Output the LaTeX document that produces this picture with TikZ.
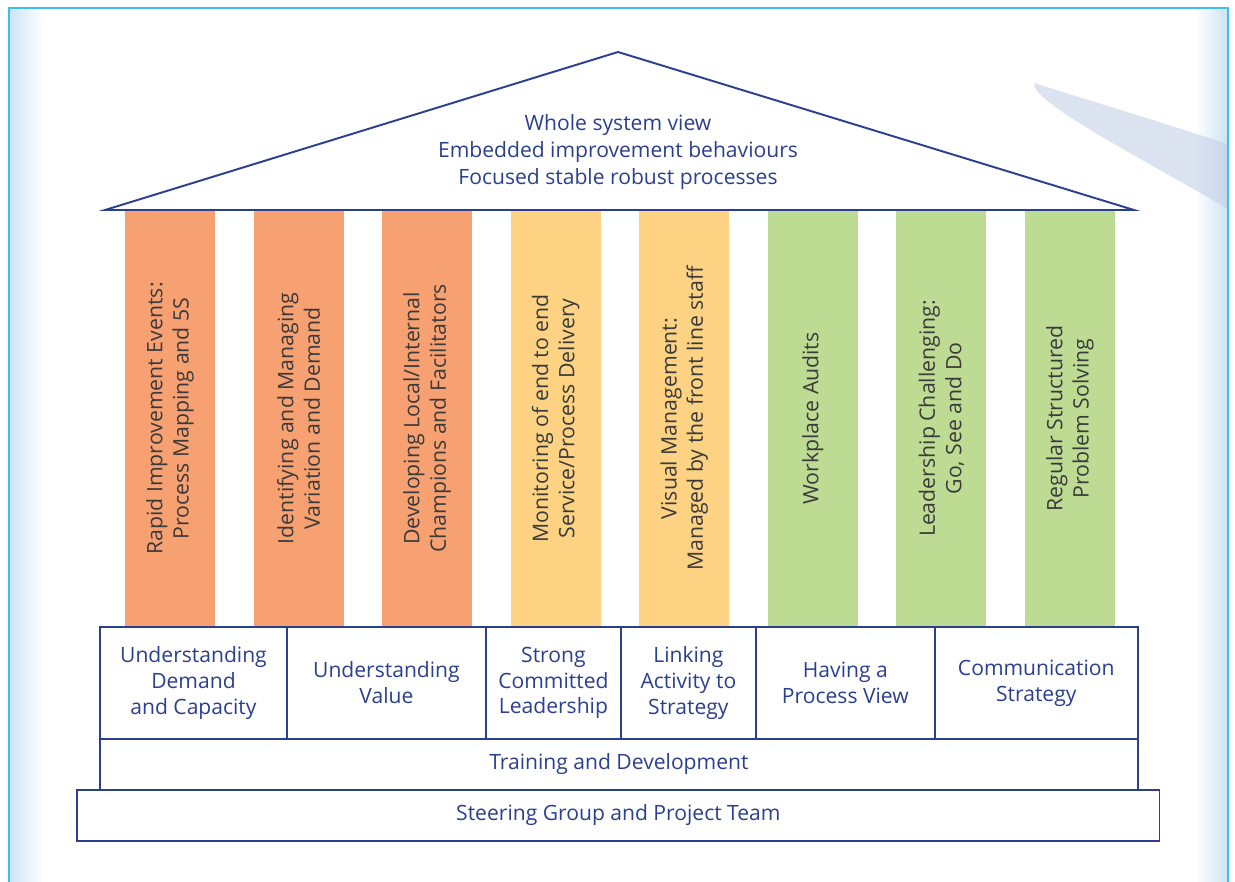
\documentclass[tikz,border=0pt]{standalone}
\usepackage{fontspec}
\setmainfont{Open Sans}
\usepackage{tikz}
\usetikzlibrary{positioning,calc}

\definecolor{houseblue}{HTML}{2B3F8F}
\definecolor{framecyan}{HTML}{3DBFEA}
\definecolor{bandblue}{HTML}{CDE4F5}
\definecolor{swooshblue}{HTML}{C4D0E6}
\definecolor{pillarorange}{HTML}{F7A172}
\definecolor{pillaryellow}{HTML}{FDD283}
\definecolor{pillargreen}{HTML}{BEDB93}
\definecolor{pillartext}{HTML}{3A3A3A}

\tikzset{
  pillar/.style={fill=#1, rotate=90, minimum width=8.34cm, minimum height=1.8cm,
    inner sep=0pt, align=center, text=pillartext, font=\fontsize{12.1}{15}\selectfont},
  cell/.style={draw=houseblue, line width=0.8pt, anchor=north west, minimum height=2.24cm,
    inner sep=0pt, outer sep=0pt, align=center, text=houseblue, font=\fontsize{12}{14.7}\selectfont},
  slab/.style={cell, minimum height=1.02cm},
}

\begin{document}
\begin{tikzpicture}[x=0.02cm, y=-0.02cm]
  \useasboundingbox (0,0) rectangle (1235,882);

  % page frame with shaded side bands
  \shade[left color=bandblue, right color=white] (10,8) rectangle (43,882);
  \shade[left color=white, right color=bandblue] (1195,8) rectangle (1227,882);
  \begin{scope}
    \clip (9,8) rectangle (1228,882);
    \fill[swooshblue, opacity=0.6] (1034,83) .. controls (1120,110) and (1180,128) .. (1230,145)
      -- (1230,210) .. controls (1130,152) and (1032,102) .. cycle;
  \end{scope}
  \draw[framecyan, line width=1.2pt] (9,882) -- (9,8) -- (1228,8) -- (1228,882);

  % pillars
  \foreach \i/\col/\txt in {
      1/pillarorange/{Rapid Improvement Events:\\Process Mapping and 5S},
      2/pillarorange/{Identifying and Managing\\Variation and Demand},
      3/pillarorange/{Developing Local/Internal\\Champions and Facilitators},
      4/pillaryellow/{Monitoring of end to end\\Service/Process Delivery},
      5/pillaryellow/{Visual Management:\\Managed by the front line staff},
      6/pillargreen/{Workplace Audits},
      7/pillargreen/{Leadership Challenging:\\Go, See and Do},
      8/pillargreen/{Regular Structured\\Problem Solving}}
    \node[pillar=\col] (p\i) at ({170+128.57*(\i-1)},418.5) {\txt};

  % roof
  \coordinate (eaveL) at (105,210);
  \coordinate (apex) at (618,52);
  \coordinate (eaveR) at (1134,210);
  \draw[houseblue, line width=1.1pt] (eaveL) -- (apex) -- (eaveR) -- cycle;
  \node[text=houseblue, align=center, font=\fontsize{12}{15.3}\selectfont] (vision) at (618,152)
    {Whole system view\\Embedded improvement behaviours\\Focused stable robust processes};

  % foundation row
  \node[cell, minimum width=3.74cm] (demand) at (100,627) {Understanding\\Demand\\and Capacity};
  \node[cell, minimum width=3.98cm] (value) at (demand.north east) {Understanding\\Value};
  \node[cell, minimum width=2.7cm] (leader) at (value.north east) {Strong\\Committed\\Leadership};
  \node[cell, minimum width=2.7cm] (linking) at (leader.north east) {Linking\\Activity to\\Strategy};
  \node[cell, minimum width=3.58cm] (procview) at (linking.north east) {Having a\\Process View};
  \node[cell, minimum width=4.06cm] (comms) at (procview.north east) {Communication\\Strategy};

  % base steps
  \node[slab, minimum width=20.76cm] (training) at (demand.south west) {Training and Development};
  \node[slab, minimum width=21.66cm] (steering) at ($(training.south west)+(-23,0)$) {Steering Group and Project Team};
\end{tikzpicture}
\end{document}
